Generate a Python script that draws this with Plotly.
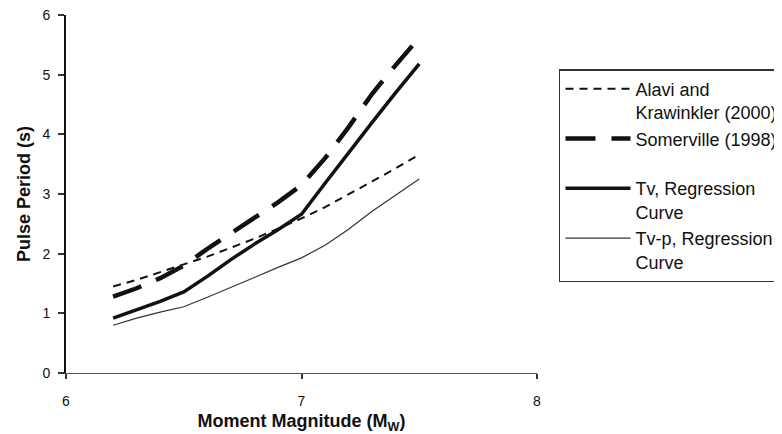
import plotly.graph_objects as go

magnitude = [6.2, 6.3, 6.4, 6.5, 6.6, 6.7, 6.8, 6.9, 7.0, 7.1, 7.2, 7.3, 7.4, 7.5]
alavi = [1.45, 1.56, 1.69, 1.82, 1.95, 2.10, 2.25, 2.42, 2.59, 2.78, 2.99, 3.21, 3.43, 3.66]
somerville = [1.28, 1.42, 1.59, 1.80, 2.08, 2.34, 2.60, 2.86, 3.15, 3.60, 4.12, 4.68, 5.16, 5.62]
tv_reg = [0.92, 1.06, 1.20, 1.36, 1.62, 1.90, 2.16, 2.40, 2.66, 3.18, 3.70, 4.20, 4.70, 5.18]
tvp_reg = [0.80, 0.92, 1.02, 1.11, 1.27, 1.43, 1.60, 1.77, 1.93, 2.14, 2.41, 2.71, 2.98, 3.25]

names = ["Alavi and<br>Krawinkler (2000)", "Somerville (1998)<br> ",
         "Tv, Regression<br>Curve", "Tv-p, Regression<br>Curve"]
x_ticks = [6, 7, 8]
y_ticks = [0, 1, 2, 3, 4, 5, 6]

font_family = "Liberation Sans, Arial, sans-serif"
ink = "#111111"

fig = go.Figure()
fig.add_trace(go.Scatter(x=magnitude, y=alavi, mode="lines", name=names[0],
                         line=dict(color=ink, width=2, dash="8px,6px")))
fig.add_trace(go.Scatter(x=magnitude, y=somerville, mode="lines", name=names[1],
                         line=dict(color=ink, width=4.5, dash="30px,16px")))
fig.add_trace(go.Scatter(x=magnitude, y=tv_reg, mode="lines", name=names[2],
                         line=dict(color=ink, width=3.5)))
fig.add_trace(go.Scatter(x=magnitude, y=tvp_reg, mode="lines", name=names[3],
                         line=dict(color="#333333", width=1.2)))

# page body adds an 8px offset, so the figure is sized to the remaining window
fig.update_layout(
    width=774, height=426,
    margin=dict(l=58, r=245, t=7, b=61, autoexpand=False),
    paper_bgcolor="white", plot_bgcolor="white",
    font=dict(family=font_family, size=14, color=ink),
    showlegend=True,
    legend=dict(
        x=1.0467, y=0.849, xanchor="left", yanchor="top",
        bordercolor="#333333", borderwidth=1.5, bgcolor="white",
        font=dict(family=font_family, size=18, color=ink),
        itemwidth=65, valign="top", tracegroupgap=0,
    ),
    xaxis=dict(
        range=[6, 8], tickvals=x_ticks, ticktext=[str(v) for v in x_ticks],
        showgrid=False, zeroline=False,
        showline=True, linecolor="#555555", linewidth=1,
        ticks="outside", ticklen=5, tickcolor="#333333", tickwidth=1.5,
        ticklabelstandoff=10, ticklabeloverflow="allow",
        tickfont=dict(size=14, color=ink),
        title=dict(text="<b>Moment Magnitude (M<sub>W</sub>)</b>",
                   font=dict(size=18, color=ink), standoff=13),
    ),
    yaxis=dict(
        range=[0, 6], tickvals=y_ticks, ticktext=[str(v) for v in y_ticks],
        showgrid=False, zeroline=False,
        showline=True, linecolor=ink, linewidth=2,
        ticks="outside", ticklen=6, tickcolor="#333333", tickwidth=1.5,
        ticklabelstandoff=5, ticklabeloverflow="allow",
        tickfont=dict(size=14, color=ink),
        title=dict(text="<b>Pulse Period (s)</b>",
                   font=dict(size=18, color=ink), standoff=7),
    ),
)

fig.write_html("out.html")
